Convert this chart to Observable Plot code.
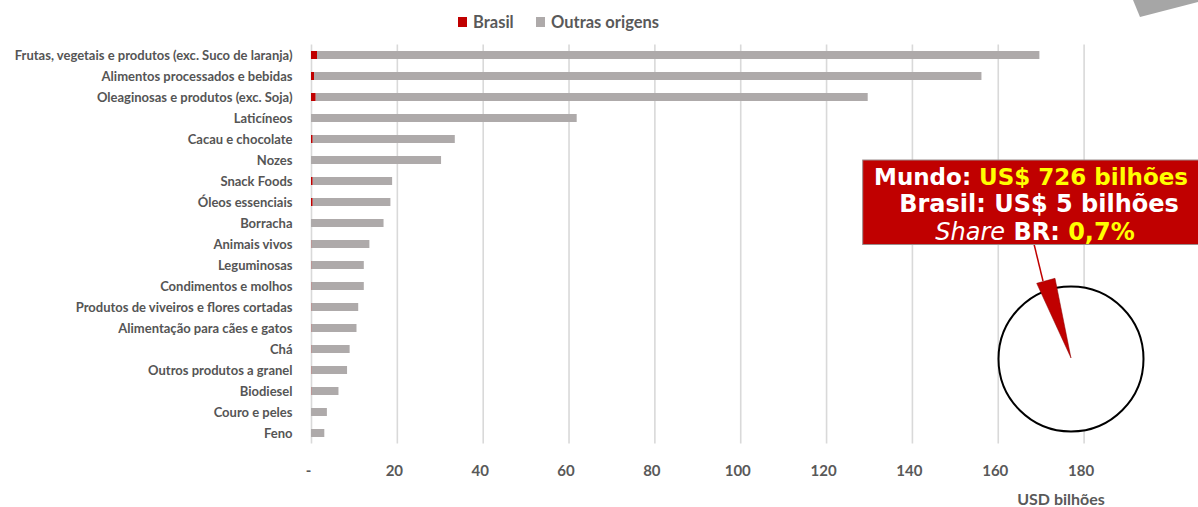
<!DOCTYPE html>
<html>
<head>
<meta charset="utf-8">
<script src="https://cdn.jsdelivr.net/npm/d3@7"></script>
<script src="https://cdn.jsdelivr.net/npm/@observablehq/plot@0.6"></script>
<style>
  html, body { margin: 0; padding: 0; background: #fff; }
  #chart svg { display: block; }
</style>
</head>
<body>
<div id="chart"></div>
<script>
// Categories (top to bottom)
const categories = [
  "Frutas, vegetais e produtos (exc. Suco de laranja)",
  "Alimentos processados e bebidas",
  "Oleaginosas e produtos (exc. Soja)",
  "Laticíneos",
  "Cacau e chocolate",
  "Nozes",
  "Snack Foods",
  "Óleos essenciais",
  "Borracha",
  "Animais vivos",
  "Leguminosas",
  "Condimentos e molhos",
  "Produtos de viveiros e flores cortadas",
  "Alimentação para cães e gatos",
  "Chá",
  "Outros produtos a granel",
  "Biodiesel",
  "Couro e peles",
  "Feno"
];
// USD bilhões
const brasil = [1.4, 0.7, 1.1, 0, 0.4, 0, 0.4, 0.4, 0, 0.1, 0.1, 0.1, 0.1, 0.1, 0.1, 0.1, 0.1, 0, 0];
const outras = [168.3, 155.5, 128.6, 61.9, 33.1, 30.3, 18.5, 18.1, 16.9, 13.5, 12.2, 12.2, 10.9, 10.5, 8.9, 8.3, 6.3, 3.7, 3.1];
const seriesNames = ["Brasil", "Outras origens"];
const seriesColors = ["#c00000", "#aeaaaa"];
const xTicks = [0, 20, 40, 60, 80, 100, 120, 140, 160, 180];
const axisTitle = "USD bilhões";
const boxLines = {
  mundoLabel: "Mundo: ", mundoValue: "US$ 726 bilhões",
  brasilLine: "Brasil: US$ 5 bilhões",
  shareItalic: "Share", shareLabel: " BR: ", shareValue: "0,7%"
};

const rows = [];
categories.forEach((c, i) => {
  rows.push({cat: c, origem: seriesNames[0], value: brasil[i]});
  rows.push({cat: c, origem: seriesNames[1], value: outras[i]});
});

const W = 1198, H = 507;
const txt = "#595959";

const chart = Plot.plot({
  width: W, height: H,
  marginLeft: 311, marginRight: 114.4, marginTop: 44.5, marginBottom: 63.5,
  style: {fontFamily: "Lato, 'Open Sans', sans-serif", background: "#fff", overflow: "visible"},
  x: {domain: [0, 180]},
  y: {domain: categories, paddingInner: 0.64, paddingOuter: 0.32},
  color: {domain: seriesNames, range: seriesColors},
  marks: [
    Plot.ruleX(xTicks, {stroke: "#d9d9d9", strokeWidth: 1.6}),
    Plot.barX(rows, {x: "value", y: "cat", fill: "origem"}),
    Plot.axisX({ticks: xTicks, tickSize: 0, tickPadding: 21, label: null,
      tickFormat: d => d === 0 ? "-" : String(d),
      fontSize: 15, fontWeight: "bold", fill: txt, dx: -3}),
    Plot.axisY({tickSize: 0, tickPadding: 19, label: null,
      fontSize: 13, fontWeight: "bold", fill: "#555555"})
  ]
});
document.getElementById("chart").appendChild(chart);

const svg = d3.select(chart);
const ann = svg.append("g").attr("text-anchor", "start");

// Axis title
ann.append("text").attr("x", 1061).attr("y", 505).attr("text-anchor", "middle")
  .attr("font-family", "Lato, sans-serif").attr("font-weight", "bold").attr("font-size", 16)
  .attr("fill", txt).text(axisTitle);

// Legend
const leg = ann.append("g").attr("font-family", "Lato, sans-serif").attr("font-weight", "bold")
  .attr("font-size", 16.5).attr("fill", txt).attr("text-anchor", "start");
const legX = [458, 536];
seriesNames.forEach((s, i) => {
  leg.append("rect").attr("x", legX[i]).attr("y", 17).attr("width", 9).attr("height", 10).attr("fill", seriesColors[i]);
  leg.append("text").attr("x", legX[i] + 15).attr("y", 27.5).attr("text-anchor", "start").text(s);
});

// Top-right decorative shape
ann.append("polygon").attr("points", "1133,0 1198,0 1198,2 1140,17").attr("fill", "#a6a6a6");

// Pie
const cx = 1071, cy = 359, r = 72.5;
ann.append("circle").attr("cx", cx).attr("cy", cy).attr("r", r)
  .attr("fill", "#fff").attr("stroke", "#000").attr("stroke-width", 2);
// callout line + wedge
ann.append("line").attr("x1", 1034).attr("y1", 244).attr("x2", 1043).attr("y2", 281)
  .attr("stroke", "#c00000").attr("stroke-width", 1.5);
ann.append("polygon").attr("points", `1036.7,283.3 1055,278.3 ${cx},${cy - 1}`).attr("fill", "#c00000")
  .attr("stroke", "#8b0000").attr("stroke-width", 0.5);

// Red box
ann.append("rect").attr("x", 862.7).attr("y", 160).attr("width", 345).attr("height", 84.5)
  .attr("fill", "#c00000").attr("stroke", "#9a8c8c").attr("stroke-width", 1);
const bx = 1039;
const bt = ann.append("g").attr("font-family", "'DejaVu Sans', Verdana, sans-serif")
  .attr("font-weight", "bold").attr("font-size", 24).attr("text-anchor", "middle");
const t1 = bt.append("text").attr("x", 874).attr("y", 184.5).attr("text-anchor", "start")
  .attr("font-size", 23).attr("textLength", 314).attr("lengthAdjust", "spacingAndGlyphs");
t1.append("tspan").attr("fill", "#fff").text(boxLines.mundoLabel);
t1.append("tspan").attr("fill", "#ffff00").text(boxLines.mundoValue);
bt.append("text").attr("x", bx).attr("y", 212).attr("fill", "#fff").text(boxLines.brasilLine);
const t3 = bt.append("text").attr("x", bx - 4).attr("y", 239.5);
t3.append("tspan").attr("fill", "#fff").attr("font-style", "italic").attr("font-weight", "normal").text(boxLines.shareItalic);
t3.append("tspan").attr("fill", "#fff").text(boxLines.shareLabel);
t3.append("tspan").attr("fill", "#ffff00").text(boxLines.shareValue);
</script>
</body>
</html>
